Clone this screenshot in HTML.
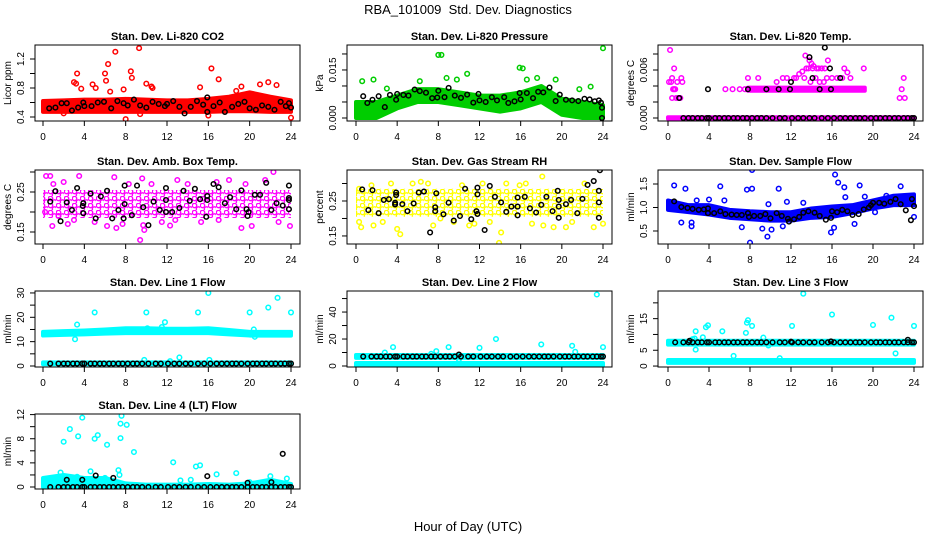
<!DOCTYPE html>
<html><head><meta charset="utf-8"><style>
body{margin:0;background:#fff}
svg{display:block;font-family:"Liberation Sans",sans-serif}
</style></head><body>
<svg id="c" width="936" height="540" viewBox="0 0 936 540">
<text x="468" y="14" font-size="13" text-anchor="middle">RBA_101009&#160; Std. Dev. Diagnostics</text>
<text x="468" y="531" font-size="13" text-anchor="middle">Hour of Day (UTC)</text>
</svg>
<script>
const xTicks=[0,4,8,12,16,20,24];
const bandHours=[0,2,4,6,8,10,12,14,16,18,20,22,24];
const rowHours=[0.7,1.5,2,2.4,2.9,3.3,3.8,4,4.6,5,5.5,5.9,6.4,6.8,7.3,7.7,8.2,8.7,9.1,9.6,10.2,10.9,11.4,12.1,12.7,13.2,13.8,14.3,15,15.6,16.2,16.8,17.3,17.8,18.3,18.7,19.2,19.8,20.3,20.7,21.2,21.6,22.1,22.5,23,23.4,23.8,24];

// Panel 1 CO2
const co2Lo=[0.47,0.47,0.47,0.47,0.47,0.47,0.47,0.47,0.47,0.48,0.48,0.47,0.47];
const co2Hi=[0.62,0.63,0.64,0.64,0.65,0.64,0.63,0.63,0.65,0.68,0.74,0.68,0.63];
const co2Out=[[3,0.88],[3.2,0.86],[3.3,1.0],[6,1.0],[6.1,0.9],[6.3,1.13],[7,1.3],[8.5,1.03],[8.6,0.94],[9.3,1.35],[10,0.86],[16.3,1.07],[17,0.92],[4.8,0.85],[5.1,0.8],[8,0.37],[9.4,0.44],[24,0.39],[16,0.42],[7.8,0.78],[19.2,0.82],[21.8,0.88],[22.6,0.84],[15.2,0.81],[3.7,0.79],[10.6,0.8],[2,0.45],[6.5,0.75],[10.5,0.82],[18.7,0.76],[21,0.85]];
const co2Black=[[0.6,0.52],[1.2,0.53],[1.8,0.59],[2.3,0.59],[2.8,0.49],[3.4,0.53],[3.9,0.6],[4,0.55],[4.7,0.55],[5.3,0.6],[5.9,0.61],[6.6,0.52],[7.2,0.62],[7.8,0.59],[8.2,0.56],[8.8,0.64],[9.4,0.56],[10,0.53],[10.6,0.61],[11.2,0.58],[11.8,0.55],[12,0.58],[12.6,0.62],[13.2,0.54],[13.7,0.45],[14.3,0.54],[14.9,0.62],[15.5,0.57],[15.9,0.67],[15.9,0.47],[16.5,0.55],[17.1,0.6],[17.6,0.47],[18.3,0.54],[18.9,0.58],[19.5,0.61],[20,0.52],[20.6,0.5],[21.2,0.56],[21.8,0.54],[22.4,0.5],[23,0.61],[23.5,0.55],[23.8,0.59],[24,0.53]];
// Panel 2 Pressure
const prLo=[0,0,0.003,0.005,0.005,0.004,0.003,0.002,0.003,0.005,0.001,0,0];
const prHi=[0.005,0.005,0.007,0.009,0.009,0.008,0.007,0.007,0.008,0.010,0.006,0.005,0.004];
const prOut=[[0.6,0.0115],[1.7,0.012],[3,0.0092],[6.2,0.0115],[8,0.0197],[8.3,0.0197],[8.8,0.0125],[9.8,0.012],[10.8,0.0138],[15.9,0.0157],[16.2,0.0155],[16.6,0.012],[17.6,0.0125],[19.4,0.012],[21.7,0.009],[22.8,0.0098],[24,0.0218],[0.1,0.0045]];
const prBlack=[[0.7,0.0068],[1.1,0.0047],[1.6,0.0057],[2.2,0.0068],[2.8,0.0034],[3.3,0.0072],[3.9,0.0057],[4,0.0075],[4.6,0.0072],[5.1,0.007],[5.7,0.0089],[6.2,0.0084],[6.8,0.0079],[7.4,0.0062],[7.9,0.0064],[8,0.0085],[8.6,0.0065],[9,0.0094],[9.6,0.007],[10.2,0.0063],[10.8,0.0073],[11.4,0.0048],[11.9,0.0075],[12,0.0055],[12.6,0.005],[13.2,0.0065],[13.7,0.0055],[14.4,0.0065],[14.8,0.0047],[15.4,0.0052],[15.9,0.0078],[16,0.0058],[16.6,0.0078],[17.2,0.0062],[17.7,0.0082],[18.2,0.008],[18.8,0.0095],[19.4,0.0053],[19.8,0.0073],[20.4,0.0057],[21,0.0055],[21.6,0.0053],[22.2,0.006],[22.7,0.0058],[23.2,0.0052],[23.6,0.0055],[23.8,0.0048],[23.9,0.0032],[23.9,0]];
// Panel 3 Temp
const tpLo=[-0.0001,-0.0001,-0.0001,-0.0001,-0.0001,-0.0001,-0.0001,-0.0001,-0.0001,-0.0001,-0.0001,-0.0001,-0.0001];
const tpHi=[0.0001,0.0001,0.0001,0.0001,0.0001,0.0001,0.0001,0.0001,0.0001,0.0001,0.0001,0.0001,0.0001];
const tpMidHours=[7.8,19.2];
const tpMidLo=[0.0034,0.0034];
const tpMidHi=[0.0038,0.0038];
const tpOut=[[0.2,0.0085],[0.6,0.0062],[0.1,0.0045],[0.3,0.0045],[0.4,0.005],[0.5,0.0036],[0.6,0.0036],[0.7,0.0036],[0.4,0.0025],[0.8,0.0025],[1.0,0.0025],[1.2,0.0025],[1.3,0.005],[1.4,0.0045],[0.9,0.0045],[5.6,0.0036],[6.3,0.0036],[7,0.0036],[7.5,0.0036],[7.8,0.005],[8.8,0.005],[10.6,0.0045],[11.2,0.005],[11.6,0.005],[12.3,0.005],[12.8,0.0055],[13.1,0.0058],[13.5,0.0062],[13.4,0.0078],[13.8,0.0072],[14,0.0068],[14.2,0.0065],[14.5,0.0062],[15,0.0062],[15.3,0.0062],[15.6,0.0072],[14.8,0.0045],[16.5,0.005],[17.2,0.0062],[17.5,0.0057],[17.8,0.005],[19.1,0.0062],[22.6,0.0025],[22.8,0.0036],[23,0.005],[23.1,0.0025],[13.7,0.0062],[14.1,0.0062],[14.7,0.0062],[12.5,0.005],[13.3,0.005],[14.4,0.005],[15.5,0.005],[16,0.005],[17,0.005],[13.9,0.0045],[15.2,0.0045]];
const tpBlack=[[1.1,0.0025],[3.9,0.0036],[7.8,0.0036],[9.6,0.0036],[10.8,0.0036],[11.9,0.0036],[12,0.0045],[13.8,0.0076],[14.1,0.005],[15.3,0.0088],[15.8,0.0062],[15.9,0.0036],[14.8,0.0036],[16.8,0.005]];
const tpRowLevel=[0];
// Panel 4 Amb box
const abLo=[0.185,0.185,0.185,0.185,0.185,0.185,0.185,0.185,0.185,0.185,0.185,0.185,0.185];
const abHi=[0.255,0.255,0.255,0.255,0.255,0.255,0.255,0.255,0.255,0.255,0.255,0.255,0.255];
const abOut=[[0.3,0.29],[0.7,0.29],[2,0.275],[4.6,0.315],[3.5,0.29],[6.9,0.287],[9.6,0.284],[9.8,0.155],[9.4,0.13],[9.7,0.167],[0.9,0.165],[1.5,0.19],[2.4,0.17],[7.1,0.16],[7.7,0.17],[12.3,0.166],[18,0.28],[19.2,0.16],[20.2,0.165],[21.5,0.28],[22.3,0.3],[23.9,0.165],[11.5,0.175],[17,0.18],[13,0.28],[5,0.175],[3,0.18],[15.3,0.175],[6.2,0.165],[0.2,0.2],[1,0.27],[8.3,0.27],[10.5,0.27],[14,0.27],[16.8,0.275],[19.6,0.27],[22.8,0.175],[12.8,0.18]];
const abBlack=[[0.7,0.226],[1.2,0.252],[2.3,0.224],[1.7,0.177],[2.8,0.205],[3.3,0.26],[3.9,0.197],[3.9,0.222],[3.85,0.215],[4.6,0.246],[5.1,0.184],[5.6,0.239],[6.2,0.253],[6.7,0.184],[7.3,0.205],[7.8,0.184],[7.9,0.22],[7.9,0.266],[8.6,0.192],[9.1,0.266],[9.7,0.212],[10.2,0.167],[10.7,0.226],[11.3,0.205],[11.9,0.26],[11.9,0.23],[11.9,0.2],[12.5,0.2],[13.2,0.21],[13.6,0.253],[14.2,0.228],[14.7,0.258],[15.2,0.232],[15.9,0.24],[15.8,0.188],[15.9,0.23],[16.5,0.27],[17,0.262],[17.6,0.222],[18.1,0.237],[18.7,0.207],[19.2,0.254],[19.7,0.207],[19.8,0.19],[19.9,0.2],[20.5,0.243],[21,0.243],[21.6,0.273],[22.1,0.205],[22.6,0.222],[23.2,0.216],[23.8,0.235],[23.8,0.23],[23.8,0.207],[23.8,0.266]];
// Panel 5 RH
const rhLo=[0.205,0.205,0.205,0.205,0.205,0.205,0.205,0.205,0.205,0.205,0.205,0.205,0.205];
const rhHi=[0.285,0.285,0.285,0.285,0.285,0.285,0.285,0.285,0.285,0.285,0.285,0.285,0.285];
const rhOut=[[0.3,0.285],[0.3,0.19],[0.5,0.175],[1.5,0.295],[1.7,0.18],[4,0.17],[4.3,0.155],[6.3,0.305],[7.5,0.18],[8.2,0.2],[13.9,0.13],[14.1,0.16],[14.6,0.3],[18.1,0.32],[18.2,0.18],[19.2,0.175],[17.1,0.185],[20.4,0.175],[23.1,0.175],[24,0.185],[22.2,0.3],[12.3,0.3],[10.3,0.295],[3.4,0.3],[15.9,0.295],[11,0.18],[5.5,0.3],[2.6,0.19],[9.5,0.19],[13,0.19],[16.5,0.3],[21,0.19],[7,0.3],[11.5,0.185]];
const rhBlack=[[0.6,0.283],[1.2,0.224],[1.6,0.281],[2.2,0.215],[2.7,0.253],[3.2,0.255],[3.8,0.24],[3.9,0.274],[3.9,0.267],[3.8,0.245],[4.5,0.241],[5,0.221],[5.6,0.243],[6.1,0.274],[6.6,0.277],[7.2,0.16],[7.7,0.221],[7.7,0.232],[7.8,0.272],[8.5,0.212],[9,0.245],[9.5,0.194],[10.1,0.207],[10.6,0.285],[11.2,0.198],[11.7,0.221],[11.8,0.288],[11.8,0.269],[11.8,0.213],[12.5,0.167],[13,0.293],[13.5,0.262],[14.1,0.246],[14.6,0.219],[15.1,0.234],[15.7,0.234],[15.7,0.26],[15.7,0.209],[16.4,0.262],[16.9,0.229],[17.5,0.217],[18,0.239],[18.5,0.262],[19.1,0.221],[19.6,0.279],[19.7,0.253],[19.7,0.234],[19.7,0.202],[20.4,0.241],[20.9,0.253],[21.5,0.215],[22,0.256],[22.5,0.296],[23.1,0.307],[23.6,0.279],[23.6,0.246],[23.6,0.202],[23.7,0.338]];
// Panel 6 Sample flow
const sfLo=[0.95,0.9,0.85,0.78,0.75,0.72,0.72,0.78,0.8,0.88,0.98,1.05,1.05];
const sfHi=[1.15,1.05,1.05,0.95,0.92,0.9,0.9,0.98,1.02,1.05,1.15,1.25,1.28];
const sfOut=[[0.6,1.47],[1.7,1.4],[5.1,1.45],[7.7,1.38],[8.2,1.4],[8.2,1.8],[8,0.25],[9.7,0.38],[10.1,0.53],[10.8,1.4],[11.2,0.6],[16.3,1.7],[16.6,1.53],[17.2,1.43],[18.7,1.47],[19.2,1.23],[22.7,1.45],[15.9,0.47],[16.2,0.57],[1.3,0.68],[2.3,0.6],[2.3,0.68],[7.2,0.58],[9.2,0.55],[11.6,1.12],[13.2,1.1],[24,0.8],[4,1.17],[21.3,1.25],[2.8,1.15],[5.5,1.15],[9.8,1.07],[17.3,1.22],[18.2,0.65],[20.2,0.9]];
const sfBlack=[[0.6,1.13],[1.3,1.01],[1.9,0.99],[2.4,0.97],[3,0.95],[3.5,0.96],[3.9,0.88],[3.9,0.98],[4.5,0.88],[5.1,0.92],[5.6,0.86],[6.2,0.85],[6.7,0.84],[7.2,0.84],[7.8,0.88],[7.9,0.8],[8.4,0.82],[9,0.82],[9.5,0.86],[10,0.77],[10.6,0.88],[11.1,0.82],[11.7,0.76],[11.8,0.7],[12.3,0.75],[12.8,0.8],[13.2,0.89],[13.7,0.92],[14.3,0.89],[14.8,0.82],[15.4,0.74],[15.9,0.78],[16,0.92],[16.5,0.9],[17,0.95],[17.5,0.92],[18,0.84],[18.6,0.86],[19.1,0.96],[19.6,1.0],[19.8,1.05],[20,1.1],[20.6,1.1],[21.1,1.08],[21.7,1.12],[22.2,1.18],[22.7,1.07],[23.2,0.94],[23.7,0.73],[23.8,1.18],[24,1.03]];
// Panel 7 Line 1
const l1Lo=[12.5,12.8,13,13.3,13.5,13.5,13.5,13.5,13.5,13,12.5,12.5,12.5];
const l1Hi=[14,14.3,14.6,15,15.5,15.5,15.3,15.3,15.5,14.8,14,14,14];
const l1Lo2=[0.7,0.7,0.7,0.7,0.7,0.7,0.7,0.7,0.7,0.7,0.7,0.7,0.7];
const l1Hi2=[1.5,1.5,1.5,1.5,1.5,1.5,1.5,1.5,1.5,1.5,1.5,1.5,1.5];
const l1Out=[[3.3,17],[3.1,11],[5,22],[10,22],[11.8,18],[15,22],[16,30],[20,22],[20.4,15],[21.8,24],[22.7,28],[24,22],[16.1,2.5],[13.2,3.5],[12.3,2],[9.8,2.5],[11.5,16],[10.1,15.5],[20.5,12]];
const l1Black=[];
const l1RowLevel=[1.0];
// Panel 8 Line 2
const l2Lo=[0.3,0.3,0.3,0.3,0.3,0.3,0.3,0.3,0.3,0.3,0.3,0.3,0.3];
const l2Hi=[2.2,2.2,2.2,2.2,2.2,2.2,2.2,2.2,2.2,2.2,2.2,2.2,2.2];
const l2Lo2=[6,6,6,6,6,6,6,6,6,6,6,6,6];
const l2Hi2=[8.2,8.2,8.2,8.2,8.2,8.2,8.2,8.2,8.2,8.2,8.2,8.2,8.2];
const l2Out=[[3.6,14],[9,14],[13.6,20],[18,16],[21,15],[23.4,53],[24,14],[12,13.5],[7.8,11],[21.3,10.5],[2.8,10],[10,5],[7.3,9]];
const l2Black=[[10,8.5]];
const l2RowLevel=[7];
// Panel 9 Line 3
const l3Lo=[1,1,1,1,1,1,1,1,1,1,1,1,1];
const l3Hi=[1.9,1.9,1.9,1.9,1.9,1.9,1.9,1.9,1.9,1.9,1.9,1.9,1.9];
const l3Lo2=[6.8,6.8,6.8,6.8,6.8,6.8,6.8,6.8,6.8,6.8,6.8,6.8,6.8];
const l3Hi2=[8,8,8,8,8,8,8,8,8,8,8,8,8];
const l3Out=[[2.7,11],[2.6,8.7],[2.7,5.2],[3.4,9.1],[3.7,12.3],[3.9,12.9],[5.3,11],[7.6,10.5],[7.7,13.7],[7.8,14.5],[8.2,12.7],[9.3,9],[12.1,12.7],[13.2,22.9],[16,16.3],[20,13],[21.8,15.3],[22.2,4],[24,12.7],[6.4,3.2],[10.9,2.5],[9.8,6.5],[2.4,8.5]];
const l3Black=[[2.1,8],[12,7.7],[15.9,7.8],[23.4,8.3]];
const l3RowLevel=[7.5];
// Panel 10 Line 4
const l4Lo=[0,0,0,0,0,0,0,0,0,0,0,0,0];
const l4Hi=[1.5,2,1.5,1.5,0.6,0.4,0.4,0.4,0.5,0.4,0.6,1.2,0.5];
const l4Out=[[2,7.5],[2.6,9.6],[3.4,8.4],[3.8,11.5],[5,8],[5.3,8.6],[6.2,7],[7.5,8.1],[7.5,10.5],[7.6,11.8],[8.1,10.3],[8.8,5.8],[12.6,4.1],[14.8,3.4],[15.2,3.6],[16.8,2.1],[18.7,2.3],[13.3,1.1],[14.3,1.2],[4.6,2.6],[7.3,2.8],[7.4,2.0],[22,1.8],[23.6,1.4],[20,0.8],[1.7,2.4],[3.3,1.7],[6,1.5]];
const l4Black=[[2.3,1.2],[3.8,1.2],[5.1,1.9],[6.8,1.5],[15.9,1.8],[19.8,0.7],[22.1,0.8],[23.2,5.5]];
const l4RowLevel=[0];

const cols=[{l:35,r:300,x0:43,x24:291},{l:347,r:612,x0:356,x24:603},{l:658,r:923,x0:668,x24:914}];
const rows=[{t:45,b:121},{t:170,b:244},{t:291,b:367},{t:414,b:489}];
const panels=[
 {name:'co2',title:'Stan. Dev. Li-820 CO2',yl:'Licor ppm',c:0,r:0,dom:[0.345,1.393],col:'#ff0000',ticks:[0.4,0.6,0.8,1.0,1.2],labs:['0.4','','0.8','','1.2'],bands:[[bandHours,co2Lo,co2Hi]],out:co2Out,blk:co2Black,row:[]},
 {name:'pressure',title:'Stan. Dev. Li-820 Pressure',yl:'kPa',c:1,r:0,dom:[-0.00094,0.0228],col:'#00cd00',ticks:[0,0.005,0.01,0.015,0.02],labs:['0.000','','','0.015',''],bands:[[bandHours,prLo,prHi]],out:prOut,blk:prBlack,row:[]},
 {name:'temp',title:'Stan. Dev. Li-820 Temp.',yl:'degrees C',c:2,r:0,dom:[-0.000375,0.009125],col:'#ff00ff',ticks:[0,0.002,0.004,0.006,0.008],labs:['0.000','','','0.006',''],bands:[[bandHours,tpLo,tpHi],[tpMidHours,tpMidLo,tpMidHi]],out:tpOut,blk:tpBlack,row:tpRowLevel,rowFrom:1.4},
 {name:'amb-box-temp',title:'Stan. Dev. Amb. Box Temp.',yl:'degrees C',c:0,r:1,dom:[0.12,0.305],col:'#ff00ff',ticks:[0.15,0.2,0.25,0.3],labs:['0.15','','0.25',''],bands:[[bandHours,abLo,abHi]],out:abOut,blk:abBlack,row:[],sparse:true},
 {name:'gas-rh',title:'Stan. Dev. Gas Stream RH',yl:'percent',c:1,r:1,dom:[0.127,0.3386],col:'#ffff00',ticks:[0.15,0.2,0.25,0.3],labs:['0.15','','0.25',''],bands:[[bandHours,rhLo,rhHi]],out:rhOut,blk:rhBlack,row:[],sparse:true},
 {name:'sample-flow',title:'Stan. Dev. Sample Flow',yl:'ml/min',c:2,r:1,dom:[0.223,1.798],col:'#0000ff',ticks:[0.5,1.0,1.5],labs:['0.5','1.0','1.5'],bands:[[bandHours,sfLo,sfHi]],out:sfOut,blk:sfBlack,row:[]},
 {name:'line1-flow',title:'Stan. Dev. Line 1 Flow',yl:'ml/min',c:0,r:2,dom:[-0.41,30.8],col:'#00ffff',ticks:[0,5,10,15,20,25,30],labs:['0','','10','','20','','30'],bands:[[bandHours,l1Lo,l1Hi],[bandHours,l1Lo2,l1Hi2]],out:l1Out,blk:l1Black,row:l1RowLevel,rowFrom:0},
 {name:'line2-flow',title:'Stan. Dev. Line 2 Flow',yl:'ml/min',c:1,r:2,dom:[-0.74,55.6],col:'#00ffff',ticks:[0,10,20,30,40,50],labs:['0','','20','','40',''],bands:[[bandHours,l2Lo,l2Hi],[bandHours,l2Lo2,l2Hi2]],out:l2Out,blk:l2Black,row:l2RowLevel,rowFrom:0},
 {name:'line3-flow',title:'Stan. Dev. Line 3 Flow',yl:'ml/min',c:2,r:2,dom:[-0.3,23.75],col:'#00ffff',ticks:[0,5,10,15,20],labs:['0','5','','15',''],bands:[[bandHours,l3Lo,l3Hi],[bandHours,l3Lo2,l3Hi2]],out:l3Out,blk:l3Black,row:l3RowLevel,rowFrom:0},
 {name:'line4-flow',title:'Stan. Dev. Line 4 (LT) Flow',yl:'ml/min',c:0,r:3,dom:[-0.33,12.1],col:'#00ffff',ticks:[0,2,4,6,8,10,12],labs:['0','','4','','8','','12'],bands:[[bandHours,l4Lo,l4Hi]],out:l4Out,blk:l4Black,row:l4RowLevel,rowFrom:0}
];
const NS='http://www.w3.org/2000/svg';
const svg=document.getElementById('c');
const defs=document.createElementNS(NS,'defs');svg.appendChild(defs);
function mk(tag,at,parent){const e=document.createElementNS(NS,tag);for(const k in at)e.setAttribute(k,at[k]);(parent||svg).appendChild(e);return e;}
const MR=2.3;
panels.forEach(p=>{
 const C=cols[p.c],R=rows[p.r];
 const g=mk('g',{});
 
 
 const xs=h=>C.x0+(C.x24-C.x0)*h/24;
 const ys=v=>R.b-(v-p.dom[0])/(p.dom[1]-p.dom[0])*(R.b-R.t);
 const cl=mk('clipPath',{id:'cp'+p.name},defs);
 mk('rect',{x:C.l,y:R.t,width:C.r-C.l,height:R.b-R.t},cl);
 let fill=p.col;
 if(p.sparse){
  const pat=mk('pattern',{id:'pt'+p.name,width:8,height:7,patternUnits:'userSpaceOnUse'},defs);
  mk('circle',{cx:2.5,cy:2.5,r:2.2,fill:'none',stroke:p.col,'stroke-width':1.4},pat);
  mk('circle',{cx:6.5,cy:6,r:2.2,fill:'none',stroke:p.col,'stroke-width':1.4},pat);
  fill='url(#pt'+p.name+')';
 }
 const pg=mk('g',{'clip-path':'url(#cp'+p.name+')'},g);
 
 
 p.bands.forEach(b=>{
  const [hs,lo,hi]=b;
  let pts=hs.map((h,i)=>xs(h)+','+ys(hi[i]));
  pts=pts.concat(hs.map((h,i)=>xs(h)+','+ys(lo[i])).reverse());
  const pl=mk('polygon',{points:pts.join(' '),fill:fill,stroke:p.sparse?'none':p.col,'stroke-width':4,'stroke-linejoin':'round'},pg);
  
  
 });
 p.out.forEach(d=>{
  const ci=mk('circle',{cx:xs(d[0]),cy:ys(d[1]),r:MR,fill:'none',stroke:p.col,'stroke-width':1.5},pg);
  
  
 });
 p.row.forEach(lv=>{
  rowHours.filter(h=>h>=p.rowFrom).forEach(h=>{
   const ci=mk('circle',{cx:xs(h),cy:ys(lv),r:MR,fill:'none',stroke:'#000','stroke-width':1.5},pg);
   
   
  });
 });
 p.blk.forEach(d=>{
  const ci=mk('circle',{cx:xs(d[0]),cy:ys(d[1]),r:MR,fill:'none',stroke:'#000','stroke-width':1.5},pg);
  
  
 });
 const box=mk('rect',{x:C.l,y:R.t,width:C.r-C.l,height:R.b-R.t,fill:'none',stroke:'#000','stroke-width':1},g);
 
 
 const t=mk('text',{x:(C.l+C.r)/2,y:R.t-5,'font-size':11,'font-weight':'bold','text-anchor':'middle'},g);
 t.textContent=p.title;
 
 
 const xa=mk('g',{},g);
 
 
 mk('line',{x1:xs(0),x2:xs(24),y1:R.b,y2:R.b,stroke:'#000'},xa);
 xTicks.forEach(h=>{
  mk('line',{x1:xs(h),x2:xs(h),y1:R.b,y2:R.b+5,stroke:'#000'},xa);
  const tx=mk('text',{x:xs(h),y:R.b+19,'font-size':10,'text-anchor':'middle'},xa);
  tx.textContent=h;
  
  
 });
 const ya=mk('g',{},g);
 
 
 mk('line',{x1:C.l,x2:C.l,y1:ys(p.ticks[0]),y2:ys(p.ticks[p.ticks.length-1]),stroke:'#000'},ya);
 p.ticks.forEach((v,i)=>{
  const y=ys(v);
  mk('line',{x1:C.l-5,x2:C.l,y1:y,y2:y,stroke:'#000'},ya);
  if(p.labs[i]){
   const tx=mk('text',{x:C.l-11,y:y,'font-size':10,'text-anchor':'middle',transform:'rotate(-90 '+(C.l-11)+' '+y+')'},ya);
   tx.textContent=p.labs[i];
   
   
  }
 });
 const cy=(R.t+R.b)/2;
 const yt=mk('text',{x:C.l-24,y:cy,'font-size':10,'text-anchor':'middle',transform:'rotate(-90 '+(C.l-24)+' '+cy+')'},g);
 yt.textContent=p.yl;
 
 
});
</script>
</body></html>
